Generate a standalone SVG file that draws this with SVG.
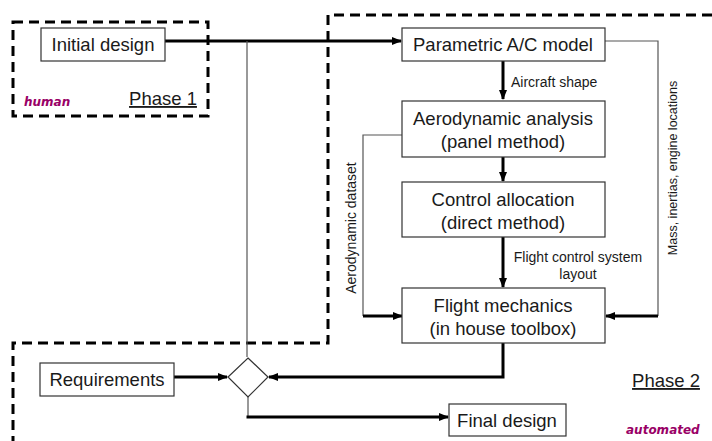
<svg xmlns="http://www.w3.org/2000/svg" width="712" height="441" viewBox="0 0 712 441">
<style>
.box{fill:#fff;stroke:#333;stroke-width:1.2}
.t{font-family:"Liberation Sans",Arial,sans-serif;font-size:18.5px;fill:#1a1a1a;text-anchor:middle}
.s{font-family:"Liberation Sans",Arial,sans-serif;font-size:14px;fill:#1a1a1a}
.dash{fill:none;stroke:#000;stroke-width:3;stroke-dasharray:10,6}
.thin{fill:none;stroke:#555;stroke-width:1.2}
.thick{fill:none;stroke:#000;stroke-width:3}
.tag{font-family:"DejaVu Sans",Verdana,sans-serif;font-size:12px;font-weight:bold;font-style:italic;fill:#990066}
</style>
<defs>
<marker id="ah" markerWidth="10" markerHeight="8" refX="9" refY="4" orient="auto" markerUnits="userSpaceOnUse">
<path d="M0,0 L10,4 L0,8 Z" fill="#000"/>
</marker>
</defs>
<g id="phase1-region">
<rect class="dash" x="13" y="22" width="195" height="94"/>
<text class="tag" x="24" y="106">human</text>
<text class="t" x="163" y="105" text-decoration="underline">Phase 1</text>
</g>
<g id="phase2-region">
<path class="dash" d="M712,15 L328,15 L328,343 L13,343 L13,441"/>
<text class="t" x="666" y="387" text-decoration="underline">Phase 2</text>
<text class="tag" x="626" y="434">automated</text>
</g>
<g id="connectors">
<line class="thick" x1="165" y1="41" x2="401" y2="41" marker-end="url(#ah)"/>
<polyline class="thin" points="247,41 247,357"/>
<line class="thick" x1="503" y1="61" x2="503" y2="99" marker-end="url(#ah)"/>
<line class="thick" x1="503" y1="157" x2="503" y2="181" marker-end="url(#ah)"/>
<line class="thick" x1="503" y1="237" x2="503" y2="287" marker-end="url(#ah)"/>
<polyline class="thin" points="402,135 363,135 363,316"/>
<line class="thick" x1="363" y1="316" x2="402" y2="316" marker-end="url(#ah)"/>
<polyline class="thin" points="605,41 658,41 658,316"/>
<line class="thick" x1="658" y1="316" x2="606" y2="316" marker-end="url(#ah)"/>
<polyline class="thick" points="503,343 503,377 269,377" marker-end="url(#ah)"/>
<line class="thick" x1="174" y1="377" x2="227" y2="377" marker-end="url(#ah)"/>
<polyline class="thin" points="248,397 248,417"/>
<line class="thick" x1="246.5" y1="417" x2="448" y2="417" marker-end="url(#ah)"/>
<text class="s" x="511" y="87">Aircraft shape</text>
<text class="s" x="578" y="262" text-anchor="middle">Flight control system</text>
<text class="s" x="578" y="279" text-anchor="middle">layout</text>
<text class="s" transform="translate(356,228) rotate(-90)" text-anchor="middle">Aerodynamic dataset</text>
<text class="s" transform="translate(677,168) rotate(-90)" text-anchor="middle" style="font-size:12.5px">Mass, inertias, engine locations</text>
</g>
<g id="initial-design">
<rect class="box" x="41" y="28" width="124" height="33"/>
<text class="t" x="103" y="51">Initial design</text>
</g>
<g id="parametric-model">
<rect class="box" x="402" y="28" width="203" height="33"/>
<text class="t" x="503" y="51">Parametric A/C model</text>
</g>
<g id="aero-analysis">
<rect class="box" x="402" y="101" width="203" height="56"/>
<text class="t" x="503" y="125">Aerodynamic analysis</text>
<text class="t" x="503" y="148">(panel method)</text>
</g>
<g id="control-allocation">
<rect class="box" x="402" y="182" width="203" height="55"/>
<text class="t" x="503" y="206">Control allocation</text>
<text class="t" x="503" y="229">(direct method)</text>
</g>
<g id="flight-mechanics">
<rect class="box" x="402" y="288" width="203" height="55"/>
<text class="t" x="503" y="312">Flight mechanics</text>
<text class="t" x="503" y="335">(in house toolbox)</text>
</g>
<g id="requirements">
<rect class="box" x="40" y="363" width="134" height="33"/>
<text class="t" x="107" y="386">Requirements</text>
</g>
<g id="decision">
<polygon points="248,358 268,377 248,397 228,377" fill="#fff" stroke="#333" stroke-width="1.2"/>
</g>
<g id="final-design">
<rect class="box" x="449" y="404" width="117" height="32"/>
<text class="t" x="507" y="427">Final design</text>
</g>
</svg>
